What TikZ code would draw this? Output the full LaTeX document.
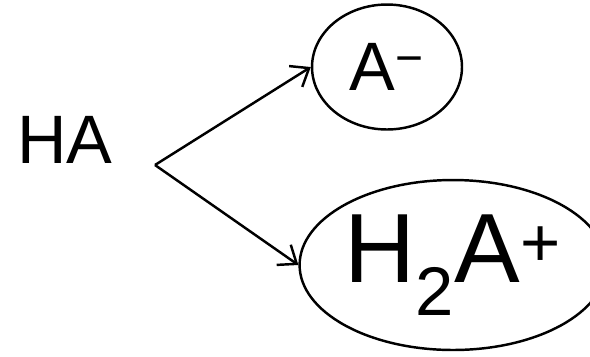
\documentclass[tikz,border=0pt]{standalone}
\usepackage{fontspec}
\setsansfont{Liberation Sans}
\usetikzlibrary{shapes.geometric,arrows.meta,positioning}

\begin{document}
\begin{tikzpicture}[
    x=0.02cm, y=-0.02cm,
    species/.style={ellipse, draw=black, line width=1.4pt, inner sep=0pt},
    react/.style={-{Straight Barb[length=9pt,width=14pt]}, line width=1.4pt},
    chem/.style={font=\sffamily\fontsize{39}{39}\selectfont},
    bigchem/.style={font=\sffamily\fontsize{56}{56}\selectfont}
]
\useasboundingbox (0,0) rectangle (590,356);

% Acid
\node[chem] (ha) at (65,140) {HA};
\coordinate (fork) at (155,165);

% Products
\node[species, chem, minimum width=3cm, minimum height=2.5cm]
    (anion) at (387,67) {A\textsuperscript{−}};
\node[species, bigchem, minimum width=5.26cm, minimum height=3.4cm]
    (cation) at (453,265) {H\textsubscript{2}A\textsuperscript{+}};

% Reactions
\draw[react] (fork) -- (anion.west);
\draw[react] (fork) -- (cation.west);

\end{tikzpicture}
\end{document}
